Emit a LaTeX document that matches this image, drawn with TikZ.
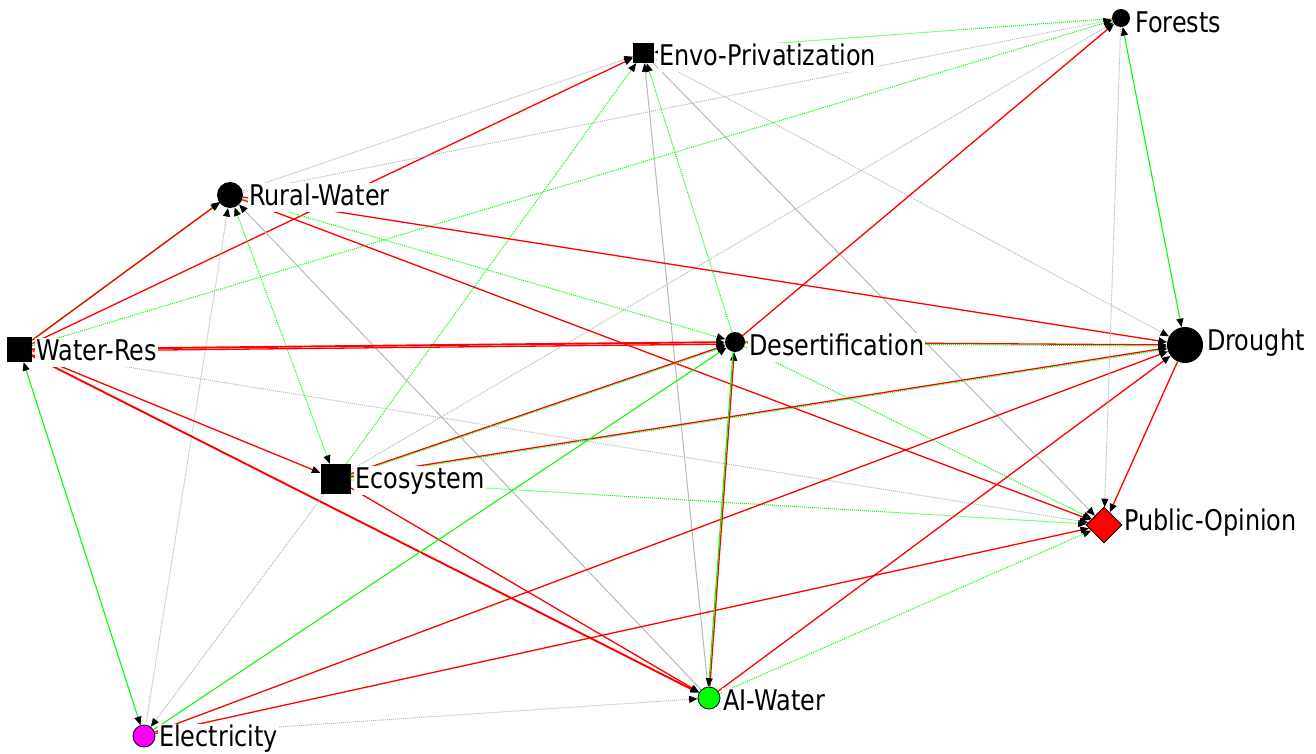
\documentclass[tikz,border=0pt]{standalone}
\usepackage{fontspec}
\usetikzlibrary{arrows.meta,shapes.geometric}
\newfontfamily\lab[FakeStretch=0.84]{DejaVu Sans}
\definecolor{pred}{RGB}{255,0,0}
\definecolor{pgrn}{RGB}{0,255,0}
\definecolor{pmag}{RGB}{255,0,255}
\definecolor{pgry}{RGB}{185,185,185}
\begin{document}
\begin{tikzpicture}[x=1pt,y=-1pt,
  blk/.style={fill=black,inner sep=0pt},
  circ/.style={circle,blk},
  sq/.style={rectangle,blk},
  lbl/.style={anchor=base west,fill=white,inner sep=1pt,text height=21pt,text depth=6pt,font=\lab\fontsize{28.5}{30}\selectfont},
  tipend/.style={-{Triangle[length=8.5pt,width=7pt,color=black]}},
  tipboth/.style={{Triangle[length=8.5pt,width=7pt,color=black]}-{Triangle[length=8.5pt,width=7pt,color=black]}},
  redl/.style={draw=pred,line width=1.3pt,tipend},
  redt/.style={draw=pred,line width=1.9pt,tipend},
  grnl/.style={draw=pgrn,line width=1.1pt,tipend},
  grnd/.style={draw=pgrn,line width=1pt,dash pattern=on 1pt off 1pt,tipend},
  gryl/.style={draw=pgry,line width=1pt,tipend},
  gryd/.style={draw=pgry,line width=1pt,dash pattern=on 1pt off 1pt,tipend}
]
\fill[white] (0,0) rectangle (1316,753);
\useasboundingbox (0,0) rectangle (1316,753);

% node shapes
\node[circ,minimum size=18pt] (F) at (1121,18) {};
\node[sq,minimum width=21pt,minimum height=20pt] (E) at (643.5,53) {};
\node[circ,minimum size=26pt] (RW) at (230,195) {};
\node[sq,minimum size=25pt] (WR) at (19.5,349.5) {};
\node[circ,minimum size=20pt] (D) at (735,342) {};
\node[circ,minimum size=36pt] (DR) at (1185,345) {};
\node[sq,minimum size=30pt] (EC) at (335.5,479) {};
\node[diamond,fill=pred,draw=black,line width=0.8pt,minimum width=36pt,minimum height=36pt,inner sep=0pt] (PO) at (1104,525) {};
\node[circle,fill=pgrn,draw=black,line width=0.8pt,minimum size=22pt,inner sep=0pt] (AI) at (709,698) {};
\node[circle,fill=pmag,draw=black,line width=0.8pt,minimum size=22pt,inner sep=0pt] (EL) at (144,736) {};

% edges
\draw[grnd] (F) -- (E);
\draw[gryd] (RW) -- (E);
\draw[redl] (WR) -- (E);
\draw[grnd] (EC) -- (E);
\draw[gryl] (AI) -- (E);
\draw[grnd] (D) -- (E);
\draw[gryd] (E) -- (DR);
\draw[gryl] (E) -- (PO);
\draw[gryd] (RW) -- (F);
\draw[grnd] (WR) -- (F);
\draw[gryd] (EC) -- (F);
\draw[redl] (D) -- (F);
\draw[grnl,tipboth] (F) -- (DR);
\draw[grnl,transform canvas={xshift=1pt,yshift=1pt}] (WR) -- (RW);
\draw[redl] (WR) -- (RW);
\draw[redl] (RW) -- (DR);
\draw[redl] (RW) -- (PO);
\draw[grnd] (RW) -- (D);
\draw[grnd,tipboth] (RW) -- (EC);
\draw[gryl] (AI) -- (RW);
\draw[gryd] (EL) -- (RW);
\draw[redt] (WR) -- (D);
\draw[redl,transform canvas={yshift=-2pt}] (WR) -- (D);
\draw[grnd] (D) -- (PO);
\draw[redl] (EC) -- (D);
\draw[grnd,transform canvas={yshift=-1.2pt}] (EC) -- (D);
\draw[redl] (EC) -- (DR);
\draw[grnd,transform canvas={yshift=-1.2pt}] (EC) -- (DR);
\draw[grnd] (EC) -- (PO);
\draw[redl] (EC) -- (AI);
\draw[redl] (WR) -- (EC);
\draw[redt] (WR) -- (AI);
\draw[gryd] (WR) -- (PO);
\draw[grnl,tipboth] (WR) -- (EL);
\draw[grnl] (EL) -- (D);
\draw[redl] (EL) -- (DR);
\draw[redl] (EL) -- (PO);
\draw[gryd] (EL) -- (AI);
\draw[gryd] (EC) -- (EL);
\draw[redl] (AI) -- (DR);
\draw[grnd] (AI) -- (PO);
\draw[redl] (DR) -- (PO);
\draw[gryd] (F) -- (PO);
\draw[redl] (AI) -- (D);
\draw[grnl,transform canvas={xshift=-1.2pt}] (D) -- (AI);
\draw[redl] (D) -- (DR);
\draw[grnd,transform canvas={yshift=-1.2pt}] (D) -- (DR);

% labels
\node[lbl] (Fl) at (1134,32) {Forests};
\node[lbl] (El) at (658,65) {Envo-Privatization};
\node[lbl] (RWl) at (248,205) {Rural-Water};
\node[lbl] (WRl) at (35,360) {Water-Res};
\node[lbl] (Dl) at (748,355) {Desertification};
\node[lbl] (DRl) at (1206,350) {Drought};
\node[lbl] (ECl) at (354,488) {Ecosystem};
\node[lbl] (POl) at (1123,530) {Public-Opinion};
\node[lbl] (AIl) at (722,710) {AI-Water};
\node[lbl] (ELl) at (158,746) {Electricity};
\end{tikzpicture}
\end{document}
